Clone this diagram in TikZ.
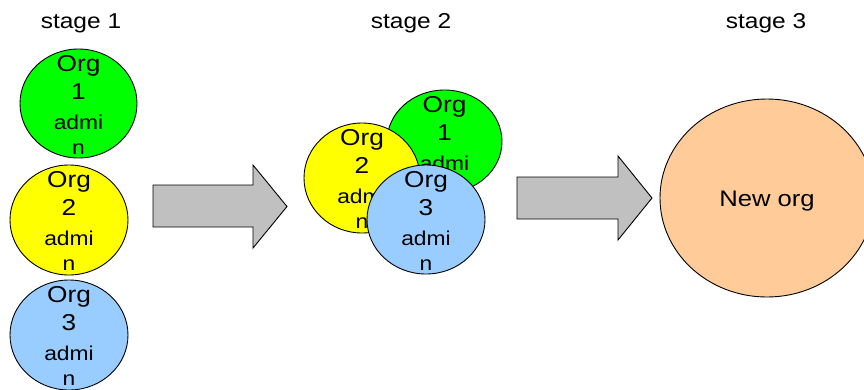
\documentclass[tikz,border=0pt]{standalone}
\usepackage{fontspec}
\newfontfamily\af[FakeStretch=1.14]{Liberation Sans}
\usetikzlibrary{shapes.geometric}
\definecolor{orggreen}{HTML}{00FF00}
\definecolor{orgyellow}{HTML}{FFFF00}
\definecolor{orgblue}{HTML}{99CCFF}
\definecolor{neworg}{HTML}{FFCC99}
\definecolor{arrowgray}{HTML}{C0C0C0}
\tikzset{
  orgshape/.style={ellipse, draw=black, line width=0.9pt, inner sep=0pt},
  bigtxt/.style={anchor=base, inner sep=0pt, font=\af\fontsize{23}{23}\selectfont},
  smalltxt/.style={anchor=base, inner sep=0pt, font=\af\fontsize{20}{20}\selectfont},
  stagetxt/.style={anchor=base, inner sep=0pt, font=\af\fontsize{21.5}{21.5}\selectfont},
  fatarrow/.style={draw=black, line width=0.9pt, fill=arrowgray, line join=miter},
}
% #1 name, #2 center, #3 width, #4 height, #5 colour, #6 number
\newcommand{\orgcircle}[6]{%
  \node[orgshape, fill=#5, minimum width=#3pt, minimum height=#4pt] (#1) at (#2) {};
  \node[bigtxt] (#1o) at ([yshift=-22.7pt]#1.north) {Org};
  \node[bigtxt] (#1n) at ([yshift=-51pt]#1.north) {#6};
  \node[smalltxt] (#1a) at ([yshift=-80.5pt]#1.north) {admi};
  \node[smalltxt] (#1b) at ([yshift=-105.5pt]#1.north) {n};
}
\begin{document}
\begin{tikzpicture}[x=1pt,y=-1pt]
\useasboundingbox (0,0) rectangle (864,389);
% stage labels
\node[stagetxt] (s1) at (81,28) {stage 1};
\node[stagetxt] (s2) at (411,28) {stage 2};
\node[stagetxt] (s3) at (766,28) {stage 3};
% stage 1
\orgcircle{ga}{78.5,103.5}{117}{109}{orggreen}{1}
\orgcircle{ya}{69,220}{118}{110}{orgyellow}{2}
\orgcircle{ba}{69,335}{118}{110}{orgblue}{3}
% arrow 1
\draw[fatarrow] (153,185) -- (253,185) -- (253,165) -- (287,206.5) -- (253,248) -- (253,227) -- (153,227) -- cycle;
% stage 2
\orgcircle{gb}{444.5,141.5}{115}{103}{orggreen}{1}
\orgcircle{yb}{362,178}{116}{110}{orgyellow}{2}
\orgcircle{bb}{426,219.5}{118}{109}{orgblue}{3}
% arrow 2
\draw[fatarrow] (517,177) -- (618,177) -- (618,156) -- (652,198) -- (618,240) -- (618,219) -- (517,219) -- cycle;
% stage 3
\node[orgshape, fill=neworg, minimum width=214pt, minimum height=198pt] (new) at (767,198) {};
\node[anchor=base, inner sep=0pt, font=\af\fontsize{22.5}{22.5}\selectfont] (newt) at (767,206.7) {New org};
\end{tikzpicture}
\end{document}
